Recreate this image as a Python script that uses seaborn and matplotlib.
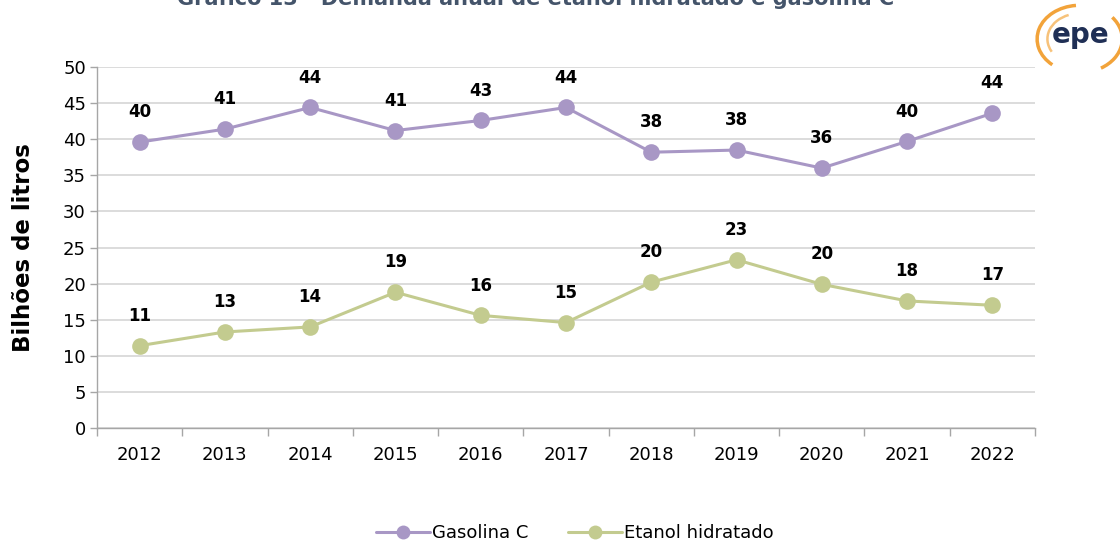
import matplotlib
matplotlib.use("Agg")
import matplotlib.pyplot as plt
from matplotlib.patches import Arc
from matplotlib.lines import Line2D
import seaborn as sns
import pandas as pd
import numpy as np

years = ["2012", "2013", "2014", "2015", "2016", "2017", "2018", "2019", "2020", "2021", "2022"]
gasolina = [39.6, 41.4, 44.4, 41.2, 42.6, 44.4, 38.2, 38.5, 36.0, 39.7, 43.6]
etanol = [11.4, 13.3, 14.0, 18.8, 15.6, 14.6, 20.2, 23.3, 19.9, 17.6, 17.0]
series_names = ["Gasolina C", "Etanol hidratado"]
colors = ["#A897C5", "#C3CB8F"]
title = "Gráfico 13 - Demanda anual de etanol hidratado e gasolina C"

df = pd.DataFrame({
    "Ano": years * 2,
    "Valor": gasolina + etanol,
    "Série": [series_names[0]] * len(years) + [series_names[1]] * len(years),
})

sns.set_theme(style="white")
plt.rcParams["font.family"] = ["DejaVu Sans"]

fig = plt.figure(figsize=(11.2, 5.45), dpi=100)
ax = fig.add_axes([0.0866, 0.2147, 0.8375, 0.6623])

sns.lineplot(data=df, x="Ano", y="Valor", hue="Série", palette=colors,
             marker="o", markersize=12, markeredgewidth=0, linewidth=2.2,
             ax=ax, legend=False, sort=False)

# data labels
for vals in (gasolina, etanol):
    for i, v in enumerate(vals):
        ax.annotate(f"{round(v):d}", (i, v), xytext=(0, 21.5), textcoords="offset points",
                    ha="center", va="center", fontsize=12, fontweight="bold", color="black")

ax.set_ylim(0, 50)
ax.set_yticks(np.arange(0, 51, 5))
ax.set_xlim(-0.5, len(years) - 0.5)
ax.set_xticks(range(len(years)))
ax.set_xticklabels(years)
ax.set_xticks(np.arange(-0.5, len(years), 1), minor=True)
ax.tick_params(axis="x", which="major", bottom=False, length=0, labelsize=13, pad=13,
               labelcolor="black")
ax.tick_params(axis="x", which="minor", bottom=True, length=6, width=1, color="#A6A6A6",
               direction="out")
ax.tick_params(axis="y", which="major", left=True, length=5, width=1, color="#A6A6A6",
               direction="out", labelsize=13, labelcolor="black", pad=3)
ax.grid(axis="y", color="#D9D9D9", linewidth=1.3)
ax.grid(axis="x", visible=False)
for s in ["top", "right"]:
    ax.spines[s].set_visible(False)
for s in ["left", "bottom"]:
    ax.spines[s].set_color("#A6A6A6")
    ax.spines[s].set_linewidth(1)
ax.set_xlabel("")
ax.set_ylabel("Bilhões de litros", fontsize=16.5, fontweight="bold", color="black", labelpad=20)

handles = [Line2D([0], [0], color=c, lw=2.2, marker="o", markersize=10, markeredgewidth=0)
           for c in colors]
leg = fig.legend(handles, series_names, loc="center", bbox_to_anchor=(0.513, 0.022),
                 ncol=2, frameon=False, fontsize=13, handlelength=3.0, columnspacing=2.2,
                 handletextpad=0.1)
for t in leg.get_texts():
    t.set_color("black")

# title (cut off at top as in reference)
fig.text(0.478, 1.004, title, ha="center", va="center", fontsize=15, fontweight="bold",
         color="#44546A")

# logo
fig.text(0.965, 0.935, "epe", ha="center", va="center", fontsize=20, color="#1F2F55",
         fontweight="bold")
lax = fig.add_axes([0.92, 0.87, 0.08, 0.13])
lax.set_xlim(0, 1); lax.set_ylim(0, 1); lax.axis("off")
lax.add_patch(Arc((0.55, 0.45), 0.95, 0.95, theta1=95, theta2=230, color="#F2A33A", lw=2.5))
lax.add_patch(Arc((0.55, 0.45), 0.72, 0.72, theta1=110, theta2=210, color="#F7C27A", lw=1.8))
lax.add_patch(Arc((0.55, 0.45), 0.95, 0.95, theta1=-60, theta2=40, color="#F2A33A", lw=2.5))

fig.savefig("out.png", dpi=100)
